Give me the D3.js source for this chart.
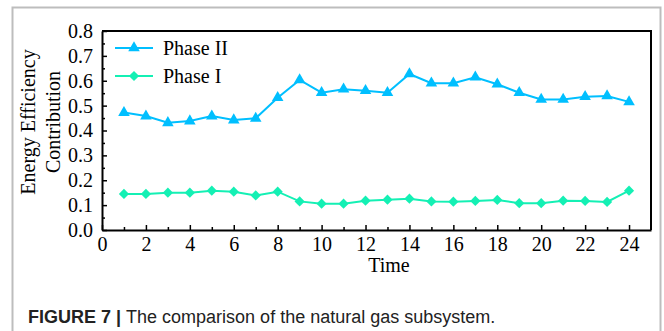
<!DOCTYPE html>
<html>
<head>
<meta charset="utf-8">
<script src="https://cdn.jsdelivr.net/npm/d3@7"></script>
<style>
  body { margin: 0; background: #fff; }
  svg { display: block; }
</style>
</head>
<body>
<svg id="chart" width="664" height="331"></svg>
<script>
// values
var times = d3.range(1, 25);
var phase2 = [0.472, 0.458, 0.431, 0.438, 0.458, 0.442, 0.449, 0.532, 0.603, 0.552,
              0.566, 0.560, 0.552, 0.627, 0.590, 0.590, 0.614, 0.586, 0.552, 0.525,
              0.525, 0.536, 0.539, 0.515];
var phase1 = [0.145, 0.145, 0.150, 0.150, 0.158, 0.154, 0.139, 0.154, 0.115, 0.106,
              0.106, 0.118, 0.122, 0.126, 0.115, 0.114, 0.117, 0.121, 0.108, 0.108,
              0.118, 0.117, 0.113, 0.158];
var xTicks = d3.range(0, 25, 2);
var yTicks = d3.range(0, 0.81, 0.1);
var seriesNames = ["Phase II", "Phase I"];
var seriesColors = ["#00BFFF", "#14F0B4"];

var svg = d3.select("#chart");

// outer figure frame
svg.append("rect")
  .attr("x", 12.5).attr("y", 7.5)
  .attr("width", 648).attr("height", 340)
  .attr("fill", "none")
  .attr("stroke", "#bdbdbd").attr("stroke-width", 2);

var pLeft = 102, pTop = 31, pRight = 651, pBottom = 230;

var x = d3.scaleLinear().domain([0, 25]).range([pLeft, pRight]);
var y = d3.scaleLinear().domain([0, 0.8]).range([pBottom, pTop]);

var serif = "'Liberation Serif', 'Times New Roman', serif";

// frame of plot (top/right)
svg.append("path")
  .attr("d", "M" + pLeft + "," + pTop + "H" + pRight + "V" + pBottom)
  .attr("fill", "none").attr("stroke", "#000").attr("stroke-width", 2);

// x axis
svg.append("g").attr("transform", "translate(0," + pBottom + ")")
  .call(d3.axisBottom(x).tickValues(xTicks).tickSizeInner(-5).tickSizeOuter(0).tickPadding(7));
svg.append("g").attr("transform", "translate(0," + pBottom + ")")
  .call(d3.axisBottom(x).tickValues(d3.range(1, 25, 2)).tickSize(-3).tickFormat(""))
  .call(function(g){ g.select(".domain").remove(); });

// y axis
svg.append("g").attr("transform", "translate(" + pLeft + ",0)")
  .call(d3.axisLeft(y).tickValues(yTicks).tickSizeInner(-5).tickSizeOuter(0).tickPadding(9)
    .tickFormat(d3.format(".1f")));
svg.append("g").attr("transform", "translate(" + pLeft + ",0)")
  .call(d3.axisLeft(y).tickValues(d3.range(0.05, 0.8, 0.1)).tickSize(-3).tickFormat(""))
  .call(function(g){ g.select(".domain").remove(); });

svg.selectAll(".domain").attr("stroke-width", 2);
svg.selectAll(".tick line").attr("stroke-width", 1.5);
svg.selectAll(".tick text")
  .attr("font-family", serif).attr("font-size", 20).attr("fill", "#000");

// axis titles
svg.append("text")
  .attr("x", 389).attr("y", 272)
  .attr("text-anchor", "middle")
  .attr("font-family", serif).attr("font-size", 20)
  .text("Time");

var yt = svg.append("text")
  .attr("transform", "translate(35,122) rotate(-90)")
  .attr("text-anchor", "middle")
  .attr("font-family", serif).attr("font-size", 20);
yt.append("tspan").attr("x", 0).attr("dy", 0).text("Energy Efficiency");
yt.append("tspan").attr("x", 0).attr("dy", 25).text("Contribution");

// series
var allSeries = [phase2, phase1];
var line = d3.line().x(function(d, i){ return x(times[i]); }).y(function(d){ return y(d); });
var triangle = d3.symbol().type(d3.symbolTriangle).size(58);
var diamond = d3.symbol().type(d3.symbolSquare).size(52);

allSeries.forEach(function(vals, s) {
  svg.append("path").datum(vals)
    .attr("d", line)
    .attr("fill", "none")
    .attr("stroke", seriesColors[s]).attr("stroke-width", 2);

  svg.selectAll(".m" + s).data(vals).enter().append("path")
    .attr("class", "m" + s)
    .attr("d", s == 0 ? triangle : diamond)
    .attr("transform", function(d, i) {
      return "translate(" + x(times[i]) + "," + y(d) + ")" + (s == 1 ? " rotate(45)" : "");
    })
    .attr("fill", seriesColors[s]);
});

// legend
seriesNames.forEach(function(name, s) {
  var ly = 48 + s * 28;
  svg.append("line")
    .attr("x1", 115).attr("x2", 153).attr("y1", ly).attr("y2", ly)
    .attr("stroke", seriesColors[s]).attr("stroke-width", 2);
  svg.append("path")
    .attr("d", s == 0 ? triangle : diamond)
    .attr("transform", "translate(134," + ly + ")" + (s == 1 ? " rotate(45)" : ""))
    .attr("fill", seriesColors[s]);
  svg.append("text")
    .attr("x", 163).attr("y", ly + 7)
    .attr("font-family", serif).attr("font-size", 20)
    .text(name);
});

// caption
var cap = svg.append("text")
  .attr("x", 28).attr("y", 323)
  .attr("font-family", "'Liberation Sans', Arial, sans-serif").attr("font-size", 18)
  .attr("fill", "#222");
cap.append("tspan").attr("font-weight", "bold").text("FIGURE 7 | ");
cap.append("tspan").text("The comparison of the natural gas subsystem.");
</script>
</body>
</html>
